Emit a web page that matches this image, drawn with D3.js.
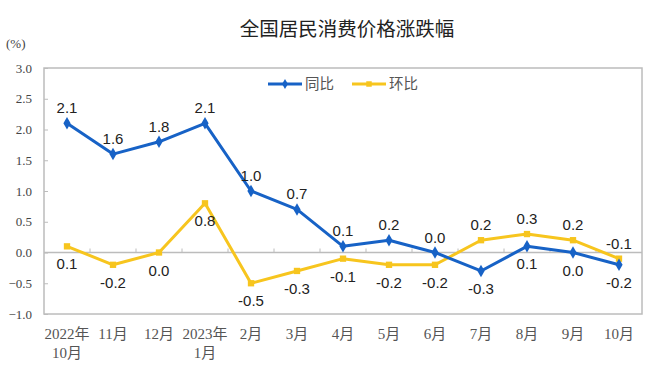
<!DOCTYPE html>
<html>
<head>
<meta charset="utf-8">
<script src="https://cdn.jsdelivr.net/npm/d3@7"></script>
<style>
  body { margin: 0; background: #fff; }
  svg text { font-family: "Liberation Sans", "Noto Sans CJK SC", sans-serif; }
</style>
</head>
<body>
<script>
const months = ["2022年|10月", "11月", "12月", "2023年|1月", "2月", "3月", "4月", "5月", "6月", "7月", "8月", "9月", "10月"];
const yoy = [2.1, 1.6, 1.8, 2.1, 1.0, 0.7, 0.1, 0.2, 0.0, -0.3, 0.1, 0.0, -0.2];
const mom = [0.1, -0.2, 0.0, 0.8, -0.5, -0.3, -0.1, -0.2, -0.2, 0.2, 0.3, 0.2, -0.1];
// label above (true) or below (false) the point
const yoyAbove = [true, true, true, true, true, true, true, true, true, false, false, false, false];
const momAbove = [false, false, false, false, false, false, false, false, false, true, true, true, true];
const yTicks = [3.0, 2.5, 2.0, 1.5, 1.0, 0.5, 0.0, -0.5, -1.0];

const w = 658, h = 372;
const plotL = 44, plotR = 642, plotT = 68, plotB = 314;
const blue = "#1762c6", yellow = "#f7c51e";

const svg = d3.select("body").append("svg")
  .attr("width", w).attr("height", h);

const x = d3.scaleBand().domain(d3.range(months.length)).range([plotL, plotR]);
const y = d3.scaleLinear().domain([-1, 3]).range([plotB, plotT]);
const cx = i => x(i) + x.bandwidth() / 2;

svg.append("text")
  .attr("x", 347).attr("y", 36)
  .attr("text-anchor", "middle")
  .attr("font-size", 19.5)
  .attr("fill", "#222")
  .text("全国居民消费价格涨跌幅");

svg.append("text")
  .attr("x", 6).attr("y", 48)
  .attr("font-size", 13)
  .attr("fill", "#444")
  .style("font-family", "Liberation Serif")
  .text("(%)");

// plot frame
svg.append("rect")
  .attr("x", plotL).attr("y", plotT)
  .attr("width", plotR - plotL).attr("height", plotB - plotT)
  .attr("fill", "none").attr("stroke", "#bcbcbc").attr("stroke-width", 1.5);

// y axis
const yAxis = d3.axisLeft(y).tickValues(yTicks).tickFormat(d3.format(".1f")).tickSize(-4).tickPadding(12);
const gy = svg.append("g").attr("transform", `translate(${plotL},0)`).call(yAxis);
gy.select(".domain").remove();
gy.selectAll("line").attr("stroke", "#bcbcbc");
gy.selectAll("text").attr("fill", "#444").attr("font-size", 13)
  .style("font-family", "Liberation Serif");

// zero line with ticks at band boundaries
const gx = svg.append("g").attr("transform", `translate(0,${y(0)})`);
gx.append("line").attr("x1", plotL).attr("x2", plotR)
  .attr("stroke", "#bcbcbc").attr("stroke-width", 1.5);
gx.selectAll(".tk").data(d3.range(1, months.length)).enter().append("line")
  .attr("x1", i => x(i)).attr("x2", i => x(i))
  .attr("y1", 0).attr("y2", -4)
  .attr("stroke", "#bcbcbc");

// x labels
const xl = svg.append("g");
months.forEach((m, i) => {
  const parts = m.split("|");
  parts.forEach((p, j) => {
    xl.append("text")
      .attr("x", cx(i)).attr("y", 339 + j * 19)
      .attr("text-anchor", "middle")
      .attr("font-size", 15)
      .attr("fill", "#555")
      .style("font-family", "Liberation Serif, Noto Sans CJK SC")
      .text(p);
  });
});

const line = d3.line().x((d, i) => cx(i)).y(d => y(d));

function drawSeries(data, color, shape, above) {
  svg.append("path").datum(data)
    .attr("d", line)
    .attr("fill", "none").attr("stroke", color)
    .attr("stroke-width", 3).attr("stroke-linejoin", "round");
  svg.selectAll(null).data(data).enter().append("path")
    .attr("transform", (d, i) => `translate(${cx(i)},${y(d)})`)
    .attr("d", d3.symbol().type(shape).size(shape === d3.symbolSquare ? 40 : 45))
    .attr("fill", color);
  svg.selectAll(null).data(data).enter().append("text")
    .attr("x", (d, i) => cx(i))
    .attr("y", (d, i) => y(d) + (above[i] ? -10 : 23))
    .attr("text-anchor", "middle")
    .attr("font-size", 15)
    .attr("fill", "#222")
    .text(d => d.toFixed(1));
}

drawSeries(mom, yellow, d3.symbolSquare, momAbove);
drawSeries(yoy, blue, d3.symbolDiamond, yoyAbove);

// legend
const legend = [["同比", blue, d3.symbolDiamond, 268], ["环比", yellow, d3.symbolSquare, 352]];
legend.forEach(([name, color, shape, lx]) => {
  const g = svg.append("g").attr("transform", `translate(${lx},84)`);
  g.append("line").attr("x1", 0).attr("x2", 34)
    .attr("stroke", color).attr("stroke-width", 3);
  g.append("path").attr("transform", "translate(17,0)")
    .attr("d", d3.symbol().type(shape).size(30)).attr("fill", color);
  g.append("text").attr("x", 37).attr("y", 5)
    .attr("font-size", 14.5).attr("fill", "#555")
    .style("font-family", "Noto Sans CJK SC")
    .text(name);
});
</script>
</body>
</html>
